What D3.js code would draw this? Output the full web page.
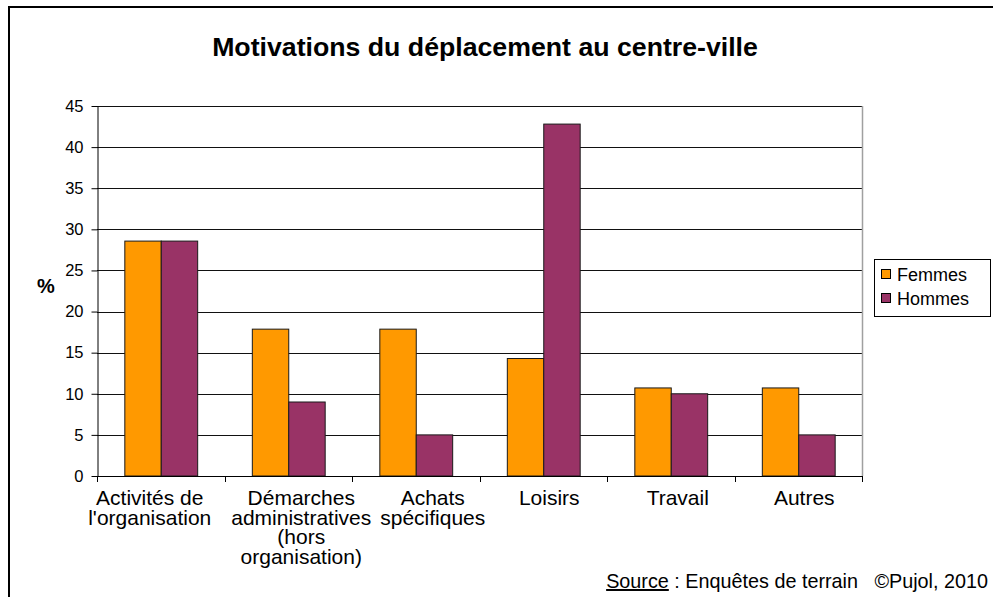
<!DOCTYPE html>
<html>
<head>
<meta charset="utf-8">
<script src="https://cdn.jsdelivr.net/npm/d3@7/dist/d3.min.js"></script>
<style>
  html, body { margin: 0; padding: 0; background: #fff; }
  svg { display: block; font-family: "Liberation Sans", Arial, sans-serif; }
</style>
</head>
<body>
<svg id="chart" width="993" height="597"></svg>
<script>
// ---- data ----
const categories = ["Activités de\nl'organisation", "Démarches\nadministratives\n(hors\norganisation)", "Achats\nspécifiques", "Loisirs", "Travail", "Autres"];
const seriesNames = ["Femmes", "Hommes"];
const femmes = [28.57, 17.86, 17.86, 14.29, 10.71, 10.71];
const hommes = [28.57, 9.0, 5.0, 42.8, 10.0, 5.0];
const yTicks = [0, 5, 10, 15, 20, 25, 30, 35, 40, 45];
const colors = ["#FF9900", "#993366"];
const title = "Motivations du déplacement au centre-ville";

// layout: horizontal nudge of wrapped category labels (as in the original)
const labelShift = [-11, 13, 17, 6, 7, 6];

const rows = categories.map((c, i) => ({ cat: c, values: [femmes[i], hommes[i]] }));

const svg = d3.select("#chart");

// outer frame
svg.append("rect")
  .attr("x", 9).attr("y", 7).attr("width", 1000).attr("height", 600)
  .attr("fill", "none").attr("stroke", "#000").attr("stroke-width", 2);

const plot = { left: 97, right: 862, top: 106, bottom: 476 };

const x0 = d3.scaleBand().domain(categories).range([plot.left, plot.right]).paddingInner(0).paddingOuter(0);
const x1 = d3.scaleBand().domain(seriesNames).range([0, x0.bandwidth()]).paddingInner(0).paddingOuter(0.75);
const y = d3.scaleLinear().domain([0, 45]).range([plot.bottom, plot.top]);

// gridlines
svg.append("g")
  .selectAll("line").data(yTicks.filter(t => t > 0)).join("line")
  .attr("x1", plot.left).attr("x2", plot.right)
  .attr("y1", d => Math.round(y(d)) + 0.5).attr("y2", d => Math.round(y(d)) + 0.5)
  .attr("stroke", "#111").attr("stroke-width", 1);

// right border of plot area
svg.append("line")
  .attr("x1", plot.right + 0.5).attr("x2", plot.right + 0.5)
  .attr("y1", plot.top).attr("y2", plot.bottom)
  .attr("stroke", "#a0a0a0").attr("stroke-width", 1.5);

// bars
const groups = svg.append("g").selectAll("g").data(rows).join("g")
  .attr("transform", d => `translate(${x0(d.cat)},0)`);
groups.selectAll("rect").data(d => d.values.map((v, i) => ({ s: seriesNames[i], v, i }))).join("rect")
  .attr("x", d => x1(d.s) + 0.5)
  .attr("y", d => y(d.v))
  .attr("width", x1.bandwidth())
  .attr("height", d => y(0) - y(d.v))
  .attr("fill", d => colors[d.i])
  .attr("stroke", "#1a1a1a").attr("stroke-width", 1);

// y axis
const yAxis = svg.append("g")
  .attr("transform", `translate(${plot.left + 0.5},0)`)
  .call(d3.axisLeft(y).tickValues(yTicks).tickSize(6).tickPadding(8).tickSizeOuter(0));
yAxis.attr("font-family", null).attr("font-size", null);
yAxis.select(".domain").attr("stroke", "#000");
yAxis.selectAll(".tick line").attr("stroke", "#000");
yAxis.selectAll(".tick text").attr("font-size", 16.5).attr("fill", "#000");

// x axis line + ticks at category boundaries
const boundaries = categories.map(c => x0(c)).concat([plot.right]);
svg.append("line")
  .attr("x1", plot.left).attr("x2", plot.right + 1)
  .attr("y1", plot.bottom + 0.5).attr("y2", plot.bottom + 0.5)
  .attr("stroke", "#000");
svg.append("g").selectAll("line").data(boundaries).join("line")
  .attr("x1", d => Math.round(d) + 0.5).attr("x2", d => Math.round(d) + 0.5)
  .attr("y1", plot.bottom).attr("y2", plot.bottom + 6)
  .attr("stroke", "#000");

// category labels
const catLabels = svg.append("g").selectAll("text").data(categories).join("text")
  .attr("y", 505)
  .attr("text-anchor", "middle")
  .attr("font-size", 21)
  .attr("fill", "#000");
catLabels.each(function(d, k) {
  const cx = x0(d) + x0.bandwidth() / 2 + labelShift[k];
  d3.select(this).selectAll("tspan").data(d.split("\n")).join("tspan")
    .attr("x", cx)
    .attr("dy", (l, i) => i === 0 ? 0 : 19.7)
    .text(l => l);
});

// y-axis title
svg.append("text").attr("x", 46).attr("y", 293).attr("text-anchor", "middle")
  .attr("font-size", 20).attr("font-weight", "bold").text("%");

// title
svg.append("text").attr("x", 485).attr("y", 56).attr("text-anchor", "middle")
  .attr("font-size", 26.7).attr("font-weight", "bold").text(title);

// legend
const legend = svg.append("g");
legend.append("rect").attr("x", 874.5).attr("y", 259.5).attr("width", 116).attr("height", 57)
  .attr("fill", "#fff").attr("stroke", "#000");
const li = legend.selectAll("g").data(seriesNames).join("g")
  .attr("transform", (d, i) => `translate(0,${i * 24})`);
li.append("rect").attr("x", 881.5).attr("y", 269.5).attr("width", 9).attr("height", 9)
  .attr("fill", (d, i) => colors[i]).attr("stroke", "#000");
li.append("text").attr("x", 897).attr("y", 281).attr("font-size", 18).text(d => d);

// source
const src = svg.append("text").attr("x", 988).attr("y", 588).attr("text-anchor", "end").attr("font-size", 19.8);
src.append("tspan").attr("text-decoration", "underline").text("Source");
src.append("tspan").attr("xml:space", "preserve").text(" : Enquêtes de terrain \u00a0\u00a0©Pujol, 2010");
</script>
</body>
</html>
